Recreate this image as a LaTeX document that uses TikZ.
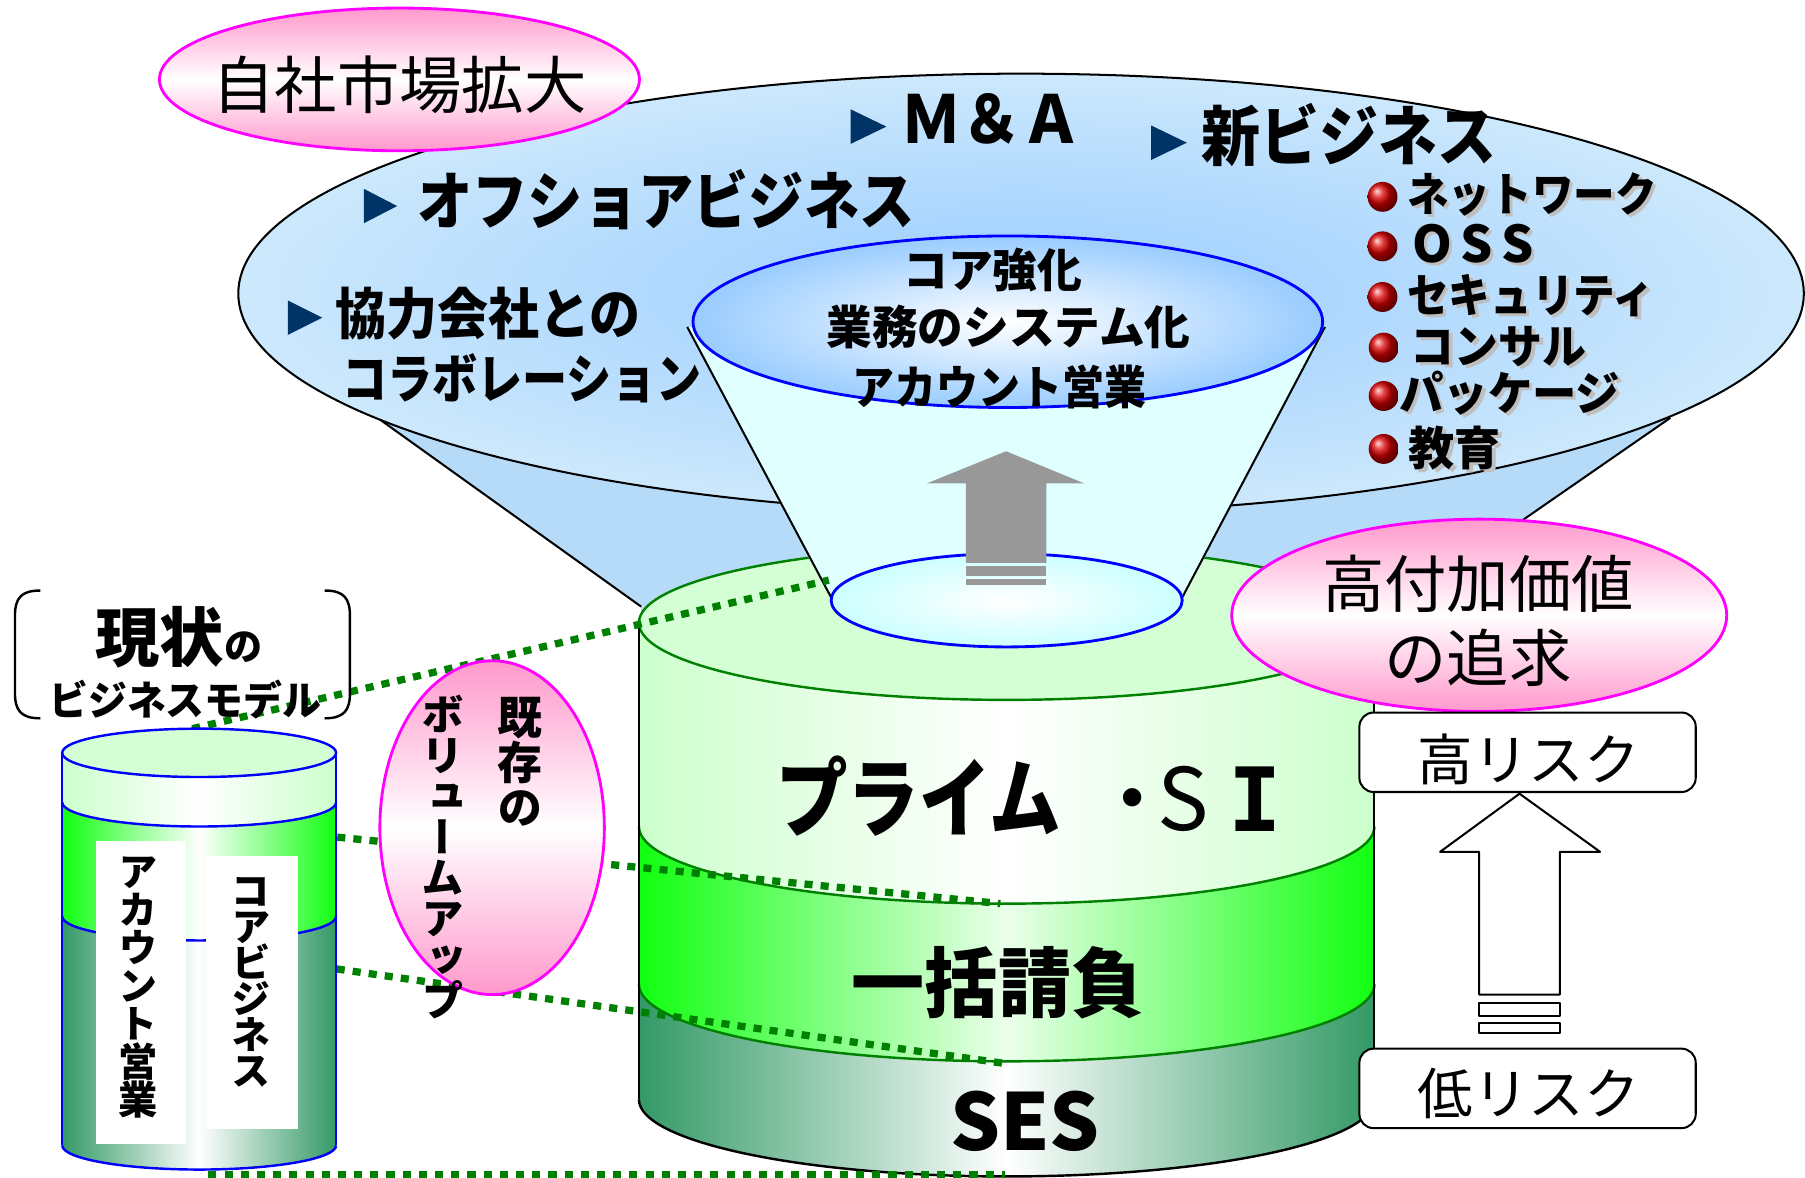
\documentclass[tikz,border=0pt]{standalone}
\usepackage{fontspec}
\newfontfamily\jp{Noto Sans CJK JP}
\newfontfamily\jpv{Noto Sans CJK JP}[RawFeature=+vert]
\newfontfamily\mono{DejaVu Sans Mono}
\definecolor{pinkc}{HTML}{FF99CC}
\definecolor{magb}{HTML}{FF00FF}
\definecolor{blueedge}{HTML}{CCE8FC}
\definecolor{bluecenter}{HTML}{99CCFF}
\definecolor{conefill}{HTML}{B5DBF9}
\definecolor{funnelfill}{HTML}{E0FFFF}
\definecolor{cyanc}{HTML}{CCFFFF}
\definecolor{ltgreen}{HTML}{CCFFCC}
\definecolor{topgreen}{HTML}{D4FFD4}
\definecolor{brgreen}{HTML}{11FF11}
\definecolor{dkgreen}{HTML}{339966}
\definecolor{lineg}{HTML}{008000}
\definecolor{navy}{HTML}{003366}
\definecolor{arrowgray}{HTML}{999999}
\definecolor{blueb}{HTML}{0000FF}
\tikzset{
  txt/.style={inner sep=0pt, text=black},
  bold/.style={txt, font=\jp\bfseries},
  reg/.style={txt, font=\jp},
  dots/.style={lineg, line width=1.8pt, dash pattern=on 2pt off 2pt},
  pinkell/.style={top color=pinkc, bottom color=pinkc, middle color=white},
  riskbox/.style={draw, line width=0.5pt, rounded corners=3.5pt, fill=white, minimum width=2.92cm, minimum height=0.69cm, inner sep=0pt},
  marker/.style={fill=navy},
}
\begin{document}
\begin{tikzpicture}[x=0.01cm, y=-0.01cm, line join=round]
\useasboundingbox (0,0) rectangle (1568,1022.6);

% ---------------- cone under the big ellipse
\fill[conefill] (328,363) -- (557,527) -- (557,600) -- (1192,600) -- (1194,541) -- (1451,363) -- cycle;
\draw[line width=0.5pt] (328,363) -- (557,527);
\draw[line width=0.5pt] (1451,363) -- (1194,541);
% ---------------- big ellipse
\shade[inner color=bluecenter, outer color=blueedge] (887,255) ellipse [x radius=680, y radius=191];
\draw[line width=0.5pt] (887,255) ellipse [x radius=680, y radius=191];

% ---------------- main cylinder
\fill[topgreen] (874.5,541) ellipse [x radius=319.5, y radius=67];
\shade[left color=ltgreen, right color=ltgreen, middle color=white]
  (555,541) -- (555,718) arc[start angle=180, end angle=0, x radius=319.5, y radius=67]
  -- (1194,541) arc[start angle=0, end angle=180, x radius=319.5, y radius=67] -- cycle;
\shade[left color=brgreen, right color=brgreen, middle color=white!92!green]
  (555,718) -- (555,855) arc[start angle=180, end angle=0, x radius=319.5, y radius=67]
  -- (1194,718) arc[start angle=0, end angle=180, x radius=319.5, y radius=67] -- cycle;
\shade[left color=dkgreen, right color=dkgreen, middle color=white]
  (555,855) -- (555,955) arc[start angle=180, end angle=0, x radius=319.5, y radius=67]
  -- (1194,855) arc[start angle=0, end angle=180, x radius=319.5, y radius=67] -- cycle;
\draw[lineg, line width=0.6pt] (874.5,541) ellipse [x radius=319.5, y radius=67];
\draw[lineg, line width=0.6pt] (555,718) arc[start angle=180, end angle=0, x radius=319.5, y radius=67];
\draw[lineg, line width=0.6pt] (555,855) arc[start angle=180, end angle=0, x radius=319.5, y radius=67];
\draw[line width=0.6pt] (555,955) arc[start angle=180, end angle=0, x radius=319.5, y radius=67];
\draw[line width=0.5pt] (555,541) -- (555,955);
\draw[line width=0.5pt] (1194,541) -- (1194,955);

% ---------------- funnel
\fill[funnelfill] (597,284) -- (722,521.5) arc[start angle=180, end angle=0, x radius=152.5, y radius=40.5] -- (1151,284) -- cycle;
\draw[line width=0.5pt] (597,284) -- (722,519);
\draw[line width=0.5pt] (1151,284) -- (1027,519);
\shade[inner color=white, outer color=cyanc] (874.5,521.5) ellipse [x radius=152.5, y radius=40.5];
\draw[blueb, line width=0.7pt] (874.5,521.5) ellipse [x radius=152.5, y radius=40.5];
% gray arrow
\fill[arrowgray] (874,392) -- (942,420) -- (909,420) -- (909,489) -- (839,489) -- (839,420) -- (805,420) -- cycle;
\fill[arrowgray] (839,492) rectangle (909,500);
\fill[arrowgray] (839,503) rectangle (909,508);
% top ellipse of the funnel
\shade[inner color=white, outer color=bluecenter] (875.5,279.5) ellipse [x radius=273.5, y radius=74.5];
\draw[blueb, line width=0.7pt] (875.5,279.5) ellipse [x radius=273.5, y radius=74.5];
\node[bold, font=\jp\bfseries\fontsize{11.4pt}{13pt}\selectfont, xscale=0.97] (core1) at (862.5,234.5) {コア強化};
\node[bold, font=\jp\bfseries\fontsize{11.4pt}{13pt}\selectfont, xscale=0.99] (core2) at (876,284) {業務のシステム化};
\node[bold, font=\jp\bfseries\fontsize{11.4pt}{13pt}\selectfont, xscale=0.91] (core3) at (868,336.5) {アカウント営業};

% ---------------- items in the big ellipse
\fill[marker] (739,95) -- (770,110) -- (739,125) -- cycle;
\node[bold, font=\jp\bfseries\fontsize{14.8pt}{16pt}\selectfont, yscale=1.1] (ma) at (861,103.5) {Ｍ＆Ａ};
\fill[marker] (1000,109) -- (1031,124) -- (1000,139) -- cycle;
\node[bold, font=\jp\bfseries\fontsize{16.2pt}{18pt}\selectfont, xscale=0.9] (newb) at (1171.5,117) {新ビジネス};
\fill[marker] (316,164) -- (345,179) -- (316,194) -- cycle;
\node[bold, font=\jp\bfseries\fontsize{15.6pt}{18pt}\selectfont, xscale=0.875] (off) at (578.5,173.5) {オフショアビジネス};
\fill[marker] (250,261) -- (280,276) -- (250,291) -- cycle;
\node[bold, font=\jp\bfseries\fontsize{13.7pt}{16pt}\selectfont, xscale=0.92] (kyo1) at (424,272.5) {協力会社との};
\node[bold, font=\jp\bfseries\fontsize{13.1pt}{16pt}\selectfont, xscale=0.85] (kyo2) at (453.5,329) {コラボレーション};

% right list with red balls and shadows
\foreach \yy in {171,214,258} {\shade[ball color=red!85!black] (1201,\yy) circle (13);}
\foreach \yy in {302,344,390} {\shade[ball color=red!85!black] (1202,\yy) circle (13);}
\tikzset{listt/.style={bold, anchor=west, font=\jp\bfseries\fontsize{11.4pt}{13pt}\selectfont}}
\node[listt, text=black!25, xscale=0.9] (l1s) at (1225,171.5) {ネットワーク};
\node[listt, xscale=0.9] (l1) at (1222,169) {ネットワーク};
\node[listt, text=black!25, font=\jp\bfseries\fontsize{12.5pt}{13pt}\selectfont] (l2s) at (1229,214.5) {O\,S\,S};
\node[listt, font=\jp\bfseries\fontsize{12.5pt}{13pt}\selectfont] (l2) at (1226,212) {O\,S\,S};
\node[listt, text=black!25, xscale=0.9] (l3s) at (1225,259) {セキュリティ};
\node[listt, xscale=0.9] (l3) at (1222,256.5) {セキュリティ};
\node[listt, text=black!25, xscale=0.95] (l4s) at (1228,303.5) {コンサル};
\node[listt, xscale=0.95] (l4) at (1225,301) {コンサル};
\node[listt, text=black!25, xscale=0.96] (l5s) at (1218,344) {パッケージ};
\node[listt, xscale=0.96] (l5) at (1215,341.5) {パッケージ};
\node[listt, text=black!25] (l6s) at (1226,391.5) {教育};
\node[listt] (l6) at (1223,389) {教育};

% ---------------- text on the main cylinder
\node[bold, font=\jp\bfseries\fontsize{21.3pt}{24pt}\selectfont, xscale=0.83] (prime) at (798,691.5) {プライム};
\node[reg, anchor=west, font=\jp\fontsize{21.3pt}{24pt}\selectfont] (dotss) at (945.5,694) {・\kern-4.5pt S};
\node[txt, font=\mono\bfseries\fontsize{21.9pt}{24pt}\selectfont] (ii) at (1090,694) {I};
\node[bold, font=\jp\bfseries\fontsize{18.8pt}{22pt}\selectfont, xscale=0.96] (ikkatsu) at (867,853.5) {一括請負};
\node[bold, font=\jp\bfseries\fontsize{19.4pt}{22pt}\selectfont] (ses) at (890.5,974) {SES};

% ---------------- dotted connections
\coordinate (s1) at (167,633);  \coordinate (e1) at (720,504);
\coordinate (s2) at (181,716);  \coordinate (e2) at (869,785);
\coordinate (s3) at (181,826);  \coordinate (e3) at (874,924);
\coordinate (s4) at (181,1020); \coordinate (e4) at (873,1020);
\draw[dots] (s1) -- (e1);
\draw[dots] (s2) -- (e2);
\draw[dots] (s3) -- (e3);
\draw[dots] (s4) -- (e4);

% ---------------- pink ellipses
\shade[pinkell] (347,69) ellipse [x radius=208.5, y radius=62];
\draw[magb, line width=0.7pt] (347,69) ellipse [x radius=208.5, y radius=62];
\node[reg, font=\jp\fontsize{15.4pt}{18pt}\selectfont] (market) at (347,74) {自社市場拡大};

\shade[pinkell] (1285,534.5) ellipse [x radius=215, y radius=83.5];
\draw[magb, line width=0.7pt] (1285,534.5) ellipse [x radius=215, y radius=83.5];
\node[reg, align=center, font=\jp\fontsize{15.4pt}{18.2pt}\selectfont] (value) at (1284,539.5) {高付加価値\\の追求};

\shade[pinkell] (427.5,719) ellipse [x radius=97.5, y radius=145];
\draw[magb, line width=0.7pt] (427.5,719) ellipse [x radius=97.5, y radius=145];
\node[bold, align=center, font=\jpv\bfseries\fontsize{11.1pt}{11.1pt}\selectfont] (kizon) at (452,662) {既\\存\\の};
\node[bold, align=center, font=\jpv\bfseries\fontsize{10.5pt}{10.1pt}\selectfont] (volume) at (385,744.5) {ボ\\リ\\ュ\\ー\\ム\\ア\\ッ\\プ};

% ---------------- risk boxes and white arrow
\node[riskbox] (hr) at (1327,653.5) {};
\node[reg, font=\jp\fontsize{13.7pt}{16pt}\selectfont] (hrt) at (1328,659.5) {高リスク};
\node[riskbox] (lr) at (1327,945.5) {};
\node[reg, font=\jp\fontsize{13.7pt}{16pt}\selectfont] (lrt) at (1328,950) {低リスク};
\draw[fill=white, line width=0.5pt] (1320,689.5) -- (1390,740) -- (1355,740) -- (1355,864) -- (1285,864) -- (1285,740) -- (1251,740) -- cycle;
\draw[fill=white, line width=0.5pt] (1285,871) rectangle (1355,883);
\draw[fill=white, line width=0.5pt] (1285,889) rectangle (1355,897);

% ---------------- current model: bracket
\draw[line width=0.6pt] (35,513) .. controls (18,513) and (13,520) .. (13,535) -- (13,602) .. controls (13,617) and (18,624) .. (35,624);
\draw[line width=0.6pt] (282,513) .. controls (299,513) and (304,520) .. (304,535) -- (304,602) .. controls (304,617) and (299,624) .. (282,624);
\node[bold, font=\jp\bfseries\fontsize{15.9pt}{18pt}\selectfont] (genjo) at (138.5,553.5) {現状};
\node[bold, font=\jp\bfseries\fontsize{9.4pt}{11pt}\selectfont] (genno) at (211.5,562.5) {の};
\node[bold, font=\jp\bfseries\fontsize{10pt}{12pt}\selectfont, xscale=0.96] (bmodel) at (161,607.5) {ビジネスモデル};

% ---------------- small cylinder
\fill[topgreen] (173,654) ellipse [x radius=119, y radius=21];
\shade[left color=ltgreen, right color=ltgreen, middle color=white]
  (54,654) -- (54,697) arc[start angle=180, end angle=0, x radius=119, y radius=21]
  -- (292,654) arc[start angle=0, end angle=180, x radius=119, y radius=21] -- cycle;
\shade[left color=brgreen, right color=brgreen, middle color=white]
  (54,697) -- (54,796) arc[start angle=180, end angle=0, x radius=119, y radius=21]
  -- (292,697) arc[start angle=0, end angle=180, x radius=119, y radius=21] -- cycle;
\shade[left color=dkgreen, right color=dkgreen, middle color=white]
  (54,796) -- (54,995) arc[start angle=180, end angle=0, x radius=119, y radius=21]
  -- (292,796) arc[start angle=0, end angle=180, x radius=119, y radius=21] -- cycle;
\draw[blueb, line width=0.6pt] (173,654) ellipse [x radius=119, y radius=21];
\draw[blueb, line width=0.6pt] (54,697) arc[start angle=180, end angle=0, x radius=119, y radius=21];
\draw[blueb, line width=0.6pt] (54,796) arc[start angle=180, end angle=0, x radius=119, y radius=21];
\draw[blueb, line width=0.6pt] (54,995) arc[start angle=180, end angle=0, x radius=119, y radius=21];
\draw[blueb, line width=0.6pt] (54,654) -- (54,995);
\draw[blueb, line width=0.6pt] (292,654) -- (292,995);
\fill[white] (83,731) rectangle (162,994);
\fill[white] (179,744) rectangle (259,981);
\node[bold, align=center, font=\jpv\bfseries\fontsize{9.7pt}{9.4pt}\selectfont] (acct) at (120,858) {ア\\カ\\ウ\\ン\\ト\\営\\業};
\node[bold, align=center, font=\jpv\bfseries\fontsize{9.7pt}{8.9pt}\selectfont] (coreb) at (218,853) {コ\\ア\\ビ\\ジ\\ネ\\ス};
\end{tikzpicture}
\end{document}
